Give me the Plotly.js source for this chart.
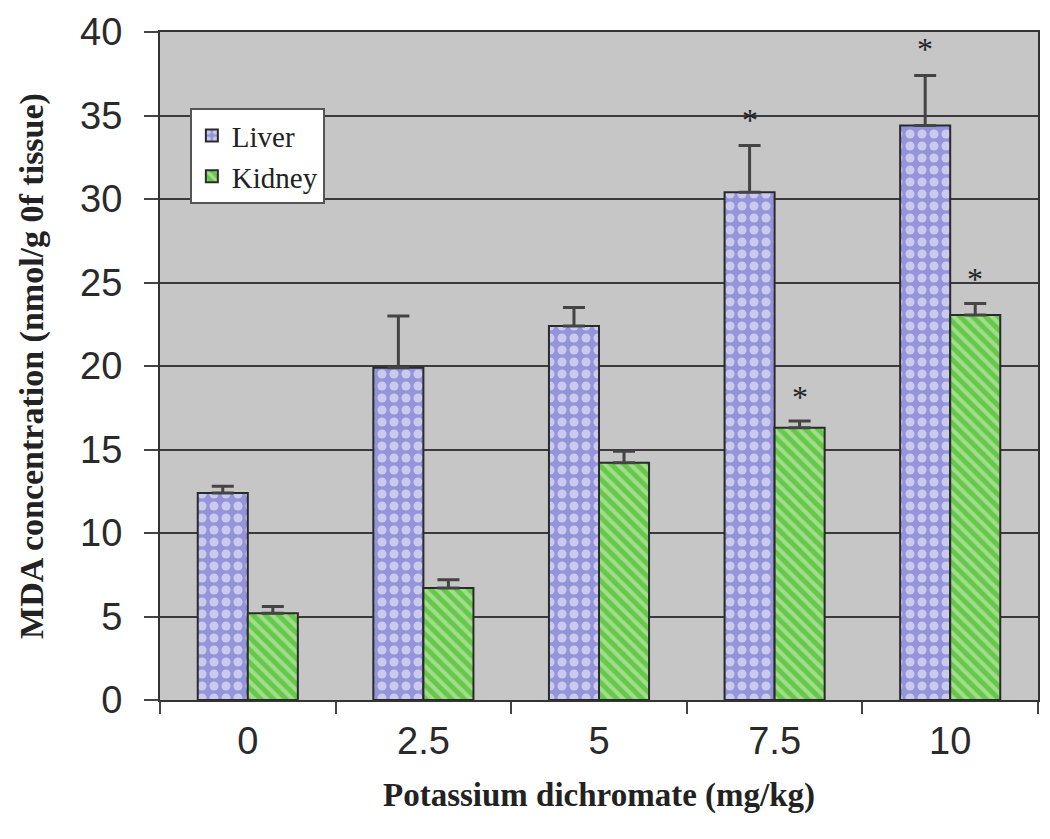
<!DOCTYPE html>
<html>
<head>
<meta charset="utf-8">
<script src="https://cdn.plot.ly/plotly-3.0.1.min.js"></script>
<style>html,body{margin:0;padding:0;background:#fff;}#chart{width:1050px;height:839px;}</style>
</head>
<body>
<div id="chart"></div>
<script>
const doses = ["0", "2.5", "5", "7.5", "10"];
const liverMean = [12.4, 19.9, 22.4, 30.4, 34.4];
const liverErr = [0.4, 3.1, 1.1, 2.8, 3.0];
const kidneyMean = [5.2, 6.7, 14.2, 16.3, 23.05];
const kidneyErr = [0.4, 0.5, 0.7, 0.4, 0.7];
const liverSig = [false, false, false, true, true];
const kidneySig = [false, false, false, true, true];

const serif = "Liberation Serif, Times New Roman, serif";
const sans = "Liberation Sans, Arial, sans-serif";

const liver = {
  type: "bar", name: "Liver", x: doses, y: liverMean,
  error_y: {type: "data", array: liverErr, symmetric: false, arrayminus: liverErr.map(() => 0), color: "#444", thickness: 3, width: 11},
  marker: {color: "#9494da", line: {color: "#2a2a2a", width: 2},
    pattern: {shape: ".", bgcolor: "#9494da", fgcolor: "#ffffff", size: 12, solidity: 0.45, fillmode: "overlay"}}
};
const kidney = {
  type: "bar", name: "Kidney", x: doses, y: kidneyMean,
  error_y: {type: "data", array: kidneyErr, symmetric: false, arrayminus: kidneyErr.map(() => 0), color: "#444", thickness: 3, width: 11},
  marker: {color: "#66c84a", line: {color: "#2a2a2a", width: 2},
    pattern: {shape: "\\", bgcolor: "#66c84a", fgcolor: "#dcf2cc", size: 9, solidity: 0.45, fillmode: "overlay"}}
};

const annotations = [];
doses.forEach((d, i) => {
  if (liverSig[i]) annotations.push({x: i, y: liverMean[i] + liverErr[i], xref: "x", yref: "y", text: "*", showarrow: false, xshift: -25, yanchor: "bottom", yshift: 6, font: {family: serif, size: 32, color: "#222"}});
  if (kidneySig[i]) annotations.push({x: i, y: kidneyMean[i] + kidneyErr[i], xref: "x", yref: "y", text: "*", showarrow: false, xshift: 25, yanchor: "bottom", yshift: 4, font: {family: serif, size: 32, color: "#222"}});
});

const layout = {
  width: 1050, height: 839,
  margin: {l: 160, r: 12, t: 32, b: 139},
  paper_bgcolor: "#ffffff", plot_bgcolor: "#c6c6c6",
  barmode: "group", bargap: 0.43, bargroupgap: 0,
  showlegend: true,
  legend: {x: 0.034, y: 0.886, xanchor: "left", yanchor: "top", bgcolor: "#ffffff", bordercolor: "#555", borderwidth: 2,
    font: {family: serif, size: 29, color: "#222"}, itemwidth: 30, tracegroupgap: 4},
  xaxis: {
    type: "category", range: [-0.5, 4.5], tickson: "boundaries", ticks: "outside", ticklen: 12, tickwidth: 2, tickcolor: "#444",
    showline: true, linecolor: "#333", linewidth: 2, mirror: true, showgrid: false,
    ticklabelstandoff: 6,
    tickfont: {family: sans, size: 38, color: "#2a2a2a"},
    title: {text: "Potassium dichromate (mg/kg)", standoff: 22, font: {family: serif, size: 33, color: "#222", weight: "bold"}}
  },
  yaxis: {
    range: [0, 40], dtick: 5, ticks: "outside", ticklen: 14, tickwidth: 2, tickcolor: "#444",
    showline: true, linecolor: "#333", linewidth: 2, mirror: true,
    showgrid: true, gridcolor: "#3a3a3a", gridwidth: 2, zeroline: false,
    ticklabelstandoff: 14,
    tickfont: {family: sans, size: 38, color: "#2a2a2a"},
    title: {text: "MDA concentration (nmol/g 0f tissue)", standoff: 26, font: {family: serif, size: 34, color: "#222", weight: "bold"}}
  },
  annotations: annotations
};

Plotly.newPlot("chart", [liver, kidney], layout, {displayModeBar: false, staticPlot: true});
</script>
</body>
</html>
